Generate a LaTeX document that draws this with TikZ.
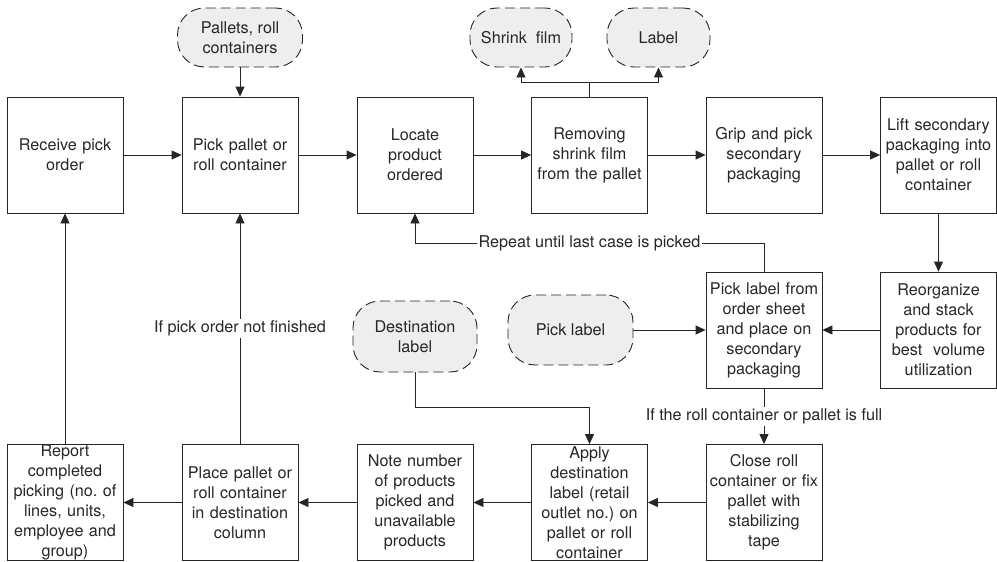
\documentclass[tikz,border=0pt]{standalone}
\usepackage{fontspec}
\setmainfont{TeX Gyre Heros}
\usetikzlibrary{arrows.meta}
\definecolor{ink}{HTML}{262626}
\definecolor{resfill}{HTML}{EEEEEE}
\frenchspacing
\begin{document}
\begin{tikzpicture}[x=1pt,y=-1pt,
  font=\fontsize{16.2}{20}\selectfont,
  every node/.style={text=ink},
  stepbox/.style={draw=ink, line width=0.8pt, minimum width=116pt, minimum height=116pt,
    inner sep=0pt, align=center, text width=114pt},
  resource/.style={draw=ink, dash pattern=on 10pt off 5pt, line width=0.9pt, fill=resfill,
    rounded corners=27pt, align=center, inner sep=0pt},
  conn/.style={draw=ink, line width=0.8pt, -{Triangle[length=10pt,width=9pt]}},
  plainline/.style={draw=ink, line width=0.8pt},
  cond/.style={fill=white, inner sep=2pt}]

\useasboundingbox (0,0) rectangle (997,562);

% main process steps, top row
\node[stepbox] (receive) at (65,155) {Receive pick\\order};
\node[stepbox] (pickpal) at (240,155) {Pick pallet or\\roll container};
\node[stepbox] (locate) at (415,155) {Locate\\product\\ordered};
\node[stepbox] (remove) at (589.5,155) {Removing\\shrink film\\from the pallet};
\node[stepbox] (grip) at (764,155) {Grip and pick\\secondary\\packaging};
\node[stepbox] (lift) at (938.5,155) {Lift secondary\\packaging into\\pallet or roll\\container};

% middle row
\node[stepbox] (picklbl) at (764,330) {Pick label from\\order sheet\\and place on\\secondary\\packaging};
\node[stepbox] (reorg) at (938.5,330) {Reorganize\\and stack\\products for\\best\ \ volume\\utilization};

% bottom row
\node[stepbox] (report) at (65,502.5) {Report\\completed\\picking (no. of\\lines, units,\\employee and\\group)};
\node[stepbox] (place) at (240,502.5) {Place pallet or\\roll container\\in destination\\column};
\node[stepbox] (note) at (415,502.5) {Note number\\of products\\picked and\\unavailable\\products};
\node[stepbox] (apply) at (589.5,502.5) {Apply\\destination\\label (retail\\outlet no.) on\\pallet or roll\\container};
\node[stepbox] (close) at (764,502.5) {Close roll\\container or fix\\pallet with\\stabilizing\\tape};

% material inputs and outputs
\node[resource, minimum width=125pt, minimum height=59pt] (pallets) at (240,37.5) {Pallets, roll\\containers};
\node[resource, minimum width=102pt, minimum height=59pt] (shrink) at (521,37.5) {Shrink\ \ film};
\node[resource, minimum width=103pt, minimum height=59pt] (label) at (658.5,37.5) {Label};
\node[resource, minimum width=124pt, minimum height=71pt] (destlbl) at (415,336.5) {Destination\\label};
\node[resource, minimum width=125pt, minimum height=70pt] (picklabel) at (570.5,330) {Pick label};

% top row flow
\draw[conn] (receive) -- (pickpal);
\draw[conn] (pickpal) -- (locate);
\draw[conn] (locate) -- (remove);
\draw[conn] (remove) -- (grip);
\draw[conn] (grip) -- (lift);
\draw[conn] (pallets) -- (pickpal);

% outputs of film removal
\coordinate (fork) at (589.5,82);
\draw[plainline] (remove.north) -- (fork);
\draw[conn] (fork) -| (shrink.south);
\draw[conn] (fork) -| (label.south);

% labelling and stacking loop
\draw[conn] (lift) -- (reorg);
\draw[conn] (reorg) -- (picklbl);
\draw[conn] (picklabel) -- (picklbl);
\coordinate (rpt) at (415,243);
\draw[conn] (picklbl.north) |- (rpt) -- (locate.south);
\node[cond] (rptlbl) at (589.5,243) {Repeat until last case is picked};

\draw[conn] (picklbl) -- node[cond] (fulllbl) {If the roll container or pallet is full} (close);

% bottom row flow
\draw[conn] (close) -- (apply);
\draw[conn] (apply) -- (note);
\draw[conn] (note) -- (place);
\draw[conn] (place) -- (report);
\coordinate (destbend) at (589.5,407);
\draw[conn] (destlbl.south) |- (destbend) -- (apply.north);

% returns to the start
\draw[conn] (place) -- node[cond] (notfin) {If pick order not finished} (pickpal);
\draw[conn] (report) -- (receive);

\end{tikzpicture}
\end{document}
